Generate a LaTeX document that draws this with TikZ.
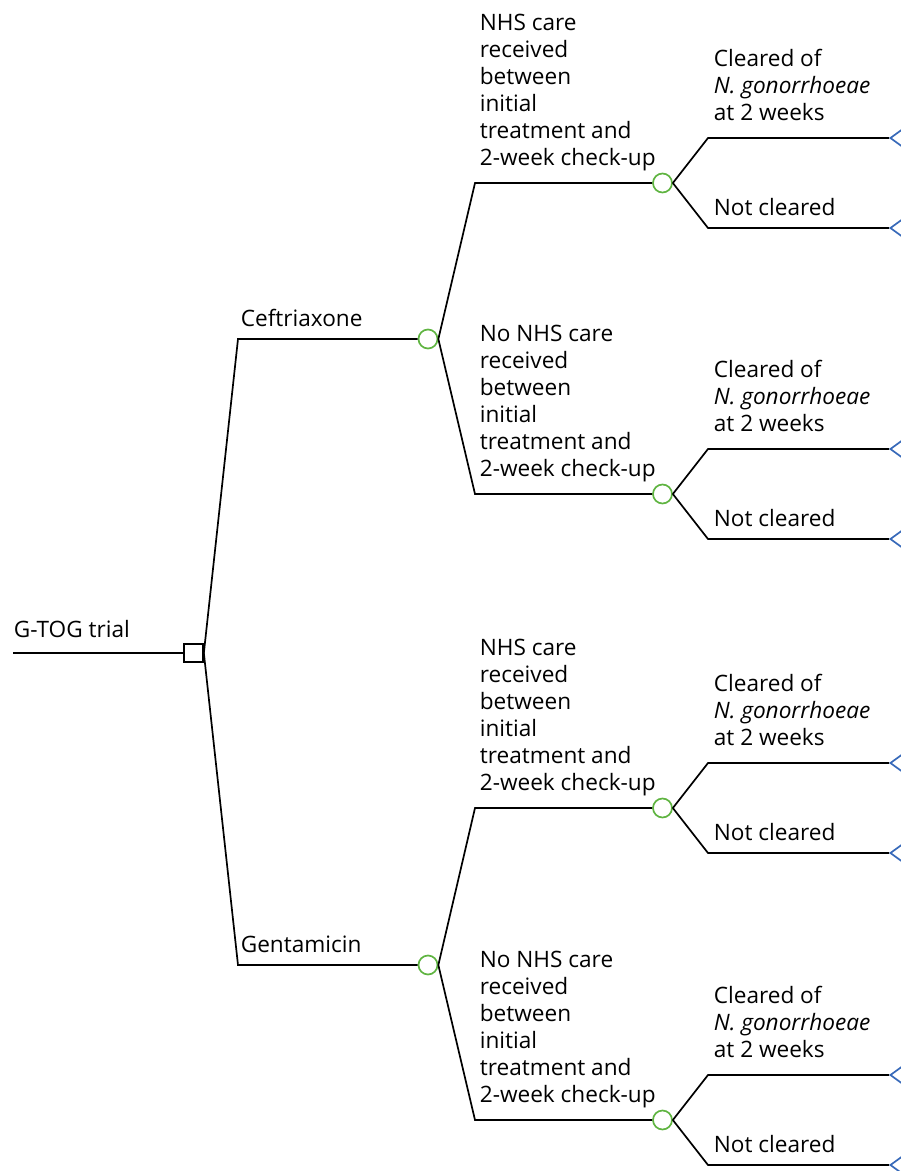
\documentclass[tikz,border=0pt]{standalone}
\usepackage{fontspec}
\setmainfont{Open Sans}
\usetikzlibrary{shapes.geometric}
\definecolor{chgreen}{RGB}{95,180,65}
\definecolor{tblue}{RGB}{55,105,185}

\begin{document}
\begin{tikzpicture}[x=1pt, y=-1pt, line width=1.7pt,
    txt/.style={font=\fontsize{22.6}{27}\selectfont, inner sep=0pt, anchor=base west, align=left},
    dec/.style={draw, rectangle, minimum width=19pt, minimum height=18pt, inner sep=0pt},
    chance/.style={draw=chgreen, circle, minimum size=19pt, inner sep=0pt},
    term/.style={draw=tblue, isosceles triangle, isosceles triangle apex angle=72, shape border rotate=180, minimum height=18pt, inner sep=0pt, anchor=apex}]

    \useasboundingbox (0,0) rectangle (901,1171);
    \clip (0,0) rectangle (901,1171);

    % decision node and the two treatment arms
    \coordinate (start) at (13,653);
    \node[dec] (dec) at (193.5,653) {};
    \draw (start) -- (dec);
    \coordinate (k1) at (238,339);
    \coordinate (k2) at (238,965);
    \node[chance] (cef) at (428,339) {};
    \node[chance] (gen) at (428,965) {};
    \draw (dec.east) -- (k1) -- (cef);
    \draw (dec.east) -- (k2) -- (gen);

    % NHS care chance nodes
    \node[chance] (n1) at (662.5,183) {};
    \node[chance] (n2) at (662.5,494) {};
    \node[chance] (n3) at (662.5,808) {};
    \node[chance] (n4) at (662.5,1120) {};
    \coordinate (b1) at (475,183);
    \coordinate (b2) at (475,494);
    \coordinate (b3) at (475,808);
    \coordinate (b4) at (475,1120);
    \draw (cef.east) -- (b1) -- (n1);
    \draw (cef.east) -- (b2) -- (n2);
    \draw (gen.east) -- (b3) -- (n3);
    \draw (gen.east) -- (b4) -- (n4);

    % terminal nodes
    \node[term] (t1) at (889,138) {};
    \node[term] (t2) at (889,228) {};
    \node[term] (t3) at (889,449) {};
    \node[term] (t4) at (889,539) {};
    \node[term] (t5) at (889,763) {};
    \node[term] (t6) at (889,853) {};
    \node[term] (t7) at (889,1075) {};
    \node[term] (t8) at (889,1165) {};
    \coordinate (c1) at (708,138);
    \coordinate (c2) at (708,228);
    \coordinate (c3) at (708,449);
    \coordinate (c4) at (708,539);
    \coordinate (c5) at (708,763);
    \coordinate (c6) at (708,853);
    \coordinate (c7) at (708,1075);
    \coordinate (c8) at (708,1165);
    \draw (n1.east) -- (c1) -- (t1);
    \draw (n1.east) -- (c2) -- (t2);
    \draw (n2.east) -- (c3) -- (t3);
    \draw (n2.east) -- (c4) -- (t4);
    \draw (n3.east) -- (c5) -- (t5);
    \draw (n3.east) -- (c6) -- (t6);
    \draw (n4.east) -- (c7) -- (t7);
    \draw (n4.east) -- (c8) -- (t8);

    % labels (base = last line)
    \node[txt] (lroot) at (13,637) {G-TOG trial};
    \node[txt] (lcef) at (240,326) {Ceftriaxone};
    \node[txt] (lgen) at (240,952) {Gentamicin};
    \node[txt] (ln1) at (479,165) {NHS care\\received\\between\\initial\\treatment and\\2-week check-up};
    \node[txt] (ln2) at (479,476) {No NHS care\\received\\between\\initial\\treatment and\\2-week check-up};
    \node[txt] (ln3) at (479,790) {NHS care\\received\\between\\initial\\treatment and\\2-week check-up};
    \node[txt] (ln4) at (479,1102) {No NHS care\\received\\between\\initial\\treatment and\\2-week check-up};
    \node[txt] (lt1) at (713,120) {Cleared of\\\textit{N. gonorrhoeae}\\at 2 weeks};
    \node[txt] (lt2) at (713,215) {Not cleared};
    \node[txt] (lt3) at (713,431) {Cleared of\\\textit{N. gonorrhoeae}\\at 2 weeks};
    \node[txt] (lt4) at (713,526) {Not cleared};
    \node[txt] (lt5) at (713,745) {Cleared of\\\textit{N. gonorrhoeae}\\at 2 weeks};
    \node[txt] (lt6) at (713,840) {Not cleared};
    \node[txt] (lt7) at (713,1057) {Cleared of\\\textit{N. gonorrhoeae}\\at 2 weeks};
    \node[txt] (lt8) at (713,1152) {Not cleared};
\end{tikzpicture}
\end{document}
